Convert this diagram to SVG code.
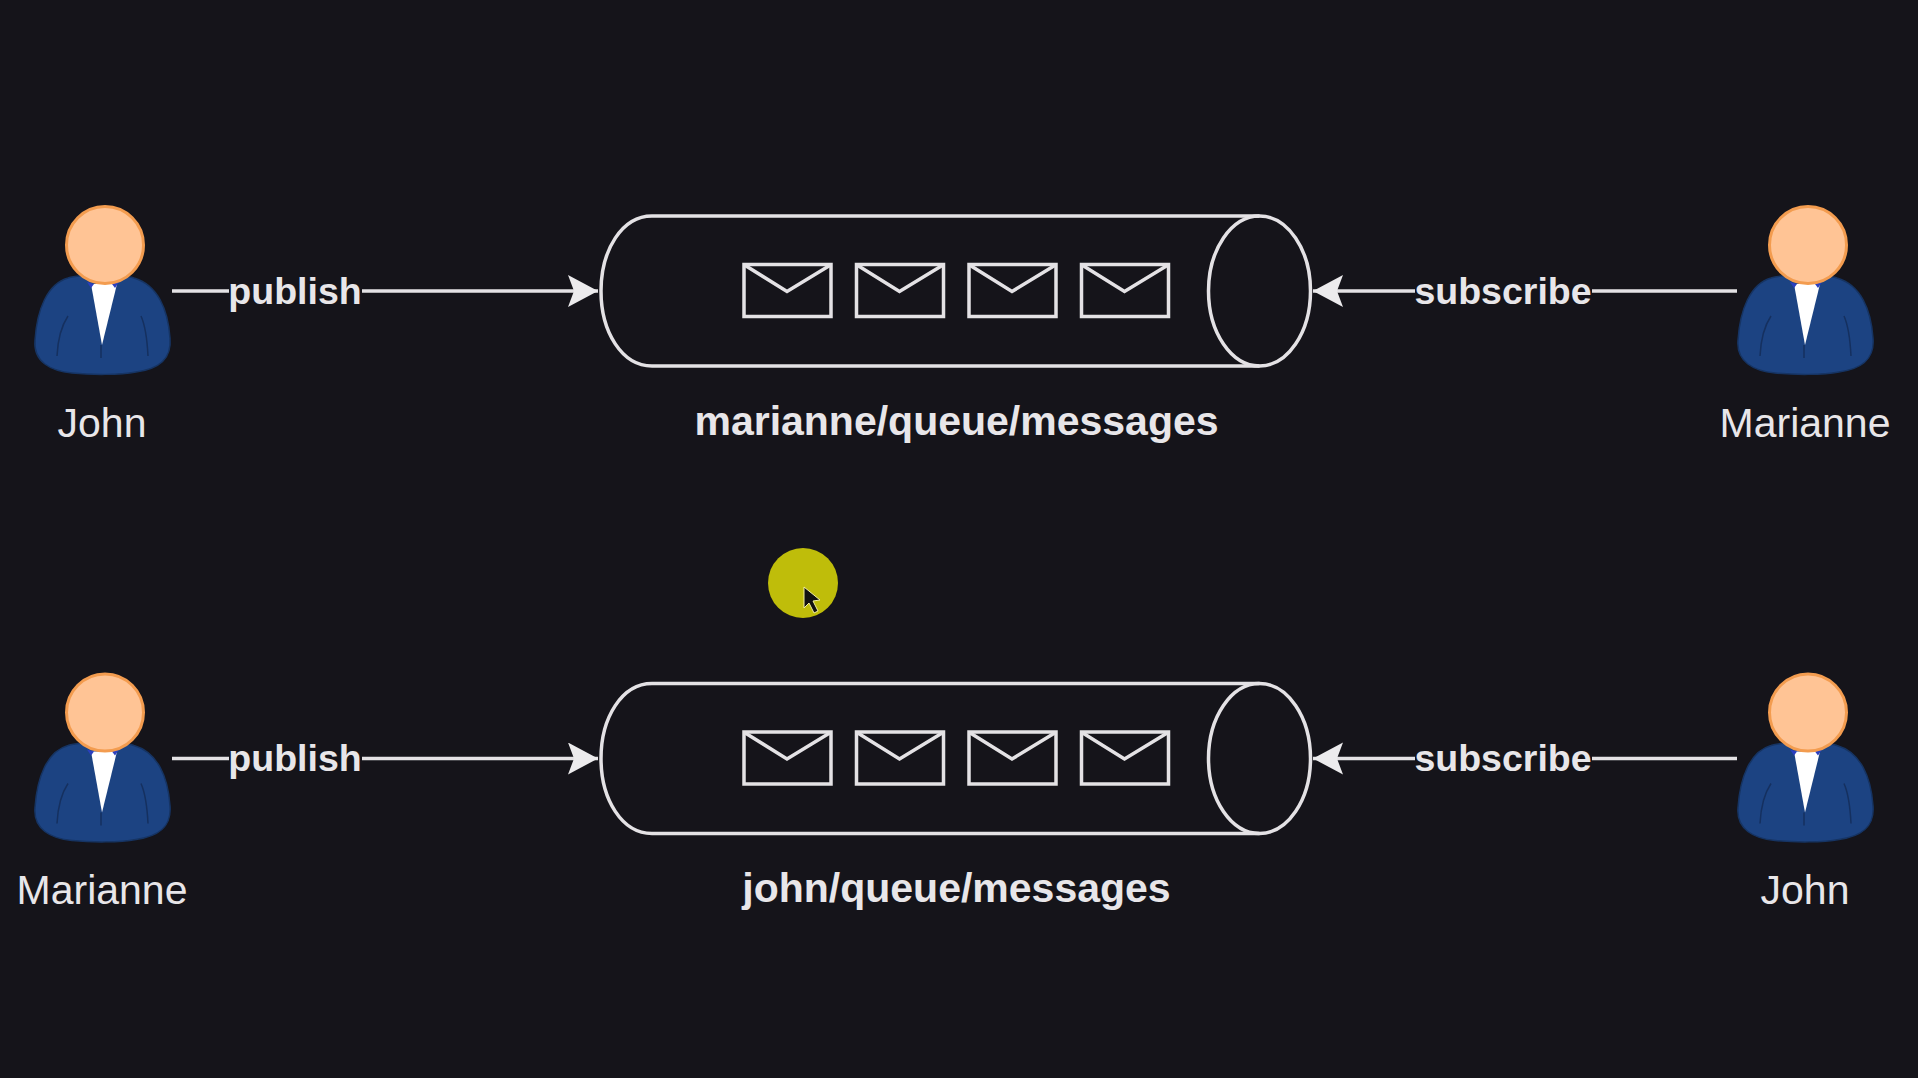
<svg xmlns="http://www.w3.org/2000/svg" xmlns:xlink="http://www.w3.org/1999/xlink" width="1918" height="1078" viewBox="0 0 1918 1078">
<style>
text{font-family:"Liberation Sans",Arial,sans-serif;fill:#e8e6e9}
.lbl{font-size:37.500px;font-weight:700;text-anchor:middle}
.path{font-size:41px;font-weight:700;text-anchor:middle}
.name{font-size:41px;text-anchor:middle}
.ln{fill:none;stroke:#e4e2e5;stroke-width:3.500}
.env{fill:none;stroke:#e4e2e5;stroke-width:3.500}
</style>
<defs>
<marker id="arr" markerUnits="userSpaceOnUse" markerWidth="32" markerHeight="34" refX="30" refY="16" orient="auto">
<path d="M0 0L30 16L0 32L6 16Z" fill="#ecebed"/>
</marker>
<g id="person">
<path d="M68 278C47 284 37 310 35 340C33 362 51 371 72 373C92 375 120 375 136 372C158 369 172 360 170 338C168 310 158 285 134 278C122 274 80 274 68 278Z" fill="#1c4382" stroke="#163463" stroke-width="1.500"/>
<path d="M57 356C58 336 62 325 68 316M148 356C147 336 145 325 141 316M101 358V345" fill="none" stroke="#15305f" stroke-width="1.500"/>
<path d="M91 284L117 284L102 345Z" fill="#fff"/>
<path d="M87 282L91 288L94 284ZM119 282L115 288L112 284Z" fill="#2a3fc0"/>
<circle cx="105" cy="245" r="38.500" fill="#ffc495" stroke="#f39c4f" stroke-width="3"/>
</g>
<g id="queue">
<path class="ln" d="M1259.5 216H652C622 216 601 250 601 291C601 332 622 366 652 366H1259.5"/>
<ellipse class="ln" cx="1259.5" cy="291" rx="51" ry="75"/>
<g id="mail">
<rect class="env" x="744" y="264.500" width="87" height="52"/>
<path class="env" d="M744.500 265L787 291.500L830.500 265"/>
</g>
<use href="#mail" x="112.500"/>
<use href="#mail" x="225"/>
<use href="#mail" x="337.500"/>
</g>
</defs>
<rect width="1918" height="1078" fill="#15141a"/>
<g id="connectors">
<path class="ln" d="M172 291H229M362 291H598" marker-end="url(#arr)"/>
<path class="ln" d="M1737 291H1592M1415 291H1313" marker-end="url(#arr)"/>
<path class="ln" d="M172 758.500H229M362 758.500H598" marker-end="url(#arr)"/>
<path class="ln" d="M1737 758.500H1592M1415 758.500H1313" marker-end="url(#arr)"/>
</g>
<g id="john-top"><use href="#person"/><text class="name" x="102" y="437">John</text></g>
<g id="queue-top"><use href="#queue"/><text class="path" x="956.500" y="435">marianne/queue/messages</text></g>
<g id="marianne-top"><use href="#person" x="1703"/><text class="name" x="1805" y="437">Marianne</text></g>
<g id="marianne-bottom"><use href="#person" y="467.500"/><text class="name" x="102" y="904">Marianne</text></g>
<g id="queue-bottom"><use href="#queue" y="467.500"/><text class="path" x="956.500" y="902">john/queue/messages</text></g>
<g id="john-bottom"><use href="#person" x="1703" y="467.500"/><text class="name" x="1805" y="904">John</text></g>
<g id="labels">
<text class="lbl" x="295" y="304">publish</text>
<text class="lbl" x="1503" y="304">subscribe</text>
<text class="lbl" x="295" y="771">publish</text>
<text class="lbl" x="1503" y="771">subscribe</text>
</g>
<g id="cursor">
<circle cx="803" cy="583" r="35" fill="#bfbd0a"/>
<path d="M804 587V608L809 603L814 613L818 611L813 601L820 600Z" fill="#111" stroke="#f0eea0" stroke-width="1"/>
</g>
</svg>
